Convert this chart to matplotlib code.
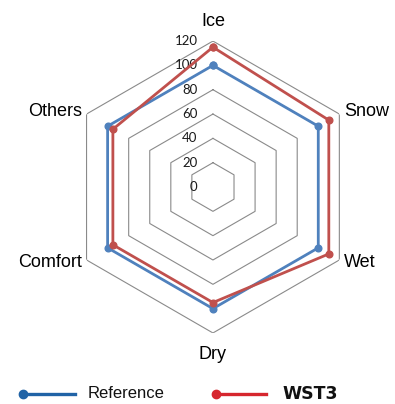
import numpy as np
import matplotlib
matplotlib.use("Agg")
import matplotlib.pyplot as plt
from matplotlib.lines import Line2D

categories = ["Ice", "Snow", "Wet", "Dry", "Comfort", "Others"]
reference = [100, 100, 100, 100, 100, 100]
wst3 = [115, 110, 110, 95, 95, 95]
ticks = [0, 20, 40, 60, 80, 100, 120]
series_names = ["Reference", "WST3"]

BLUE = "#4F81BD"
RED = "#C0504D"
GRID = "#8a8a8a"

fig = plt.figure(figsize=(3.95, 4.04), dpi=100)
ax = fig.add_axes([0.1696, 0.1757, 0.739, 0.7228], projection="polar")
ax.set_theta_offset(np.pi / 2)
ax.set_theta_direction(-1)
ax.set_ylim(0, 120)
ax.axis("off")

n = len(categories)
angles = np.linspace(0, 2 * np.pi, n, endpoint=False)
closed = np.append(angles, angles[0])

# hexagonal grid rings
for t in ticks[1:]:
    ax.plot(closed, [t] * (n + 1), color=GRID, lw=0.8, zorder=1)

# radial tick labels, left of the top spoke
for t in ticks:
    ax.annotate(str(t), xy=(0, t), xytext=(-11, 0), textcoords="offset points",
                ha="right", va="center", fontsize=9.5, family="Lato", color="#1a1a1a")

for vals, col in [(reference, BLUE), (wst3, RED)]:
    v = np.append(vals, vals[0])
    ax.plot(closed, v, color=col, lw=2.0, marker="o", ms=4.8, zorder=3)

# category labels
for ang, lab in zip(angles, categories):
    deg = np.degrees(ang)
    if deg == 0:
        ax.text(ang, 129, lab, ha="center", va="bottom", fontsize=13, family="Liberation Sans")
    elif deg == 180:
        ax.text(ang, 131, lab, ha="center", va="top", fontsize=13, family="Liberation Sans")
    elif deg < 180:
        ax.text(ang, 124.5, lab, ha="left", va="center", fontsize=13, family="Liberation Sans")
    else:
        ax.text(ang, 124.5, lab, ha="right", va="center", fontsize=13, family="Liberation Sans")

# legend drawn by hand: marker at the left end of each swatch
y = 1 - 394 / 404
fig.add_artist(Line2D([0.058, 0.19], [y, y], color="#2163A6", lw=2.4,
                      marker="o", ms=6, markevery=[0], transform=fig.transFigure))
fig.text(0.223, y, series_names[0], ha="left", va="center", fontsize=12,
         family=["Liberation Sans Narrow", "Liberation Sans"], color="#111111")
fig.add_artist(Line2D([0.547, 0.673], [y, y], color="#D6262E", lw=2.4,
                      marker="o", ms=6, markevery=[0], transform=fig.transFigure))
fig.text(0.714, y, series_names[1], ha="left", va="center", fontsize=12.5,
         family="DejaVu Sans", weight="heavy", color="#111111")

fig.savefig("out.png", dpi=100, facecolor="white")
